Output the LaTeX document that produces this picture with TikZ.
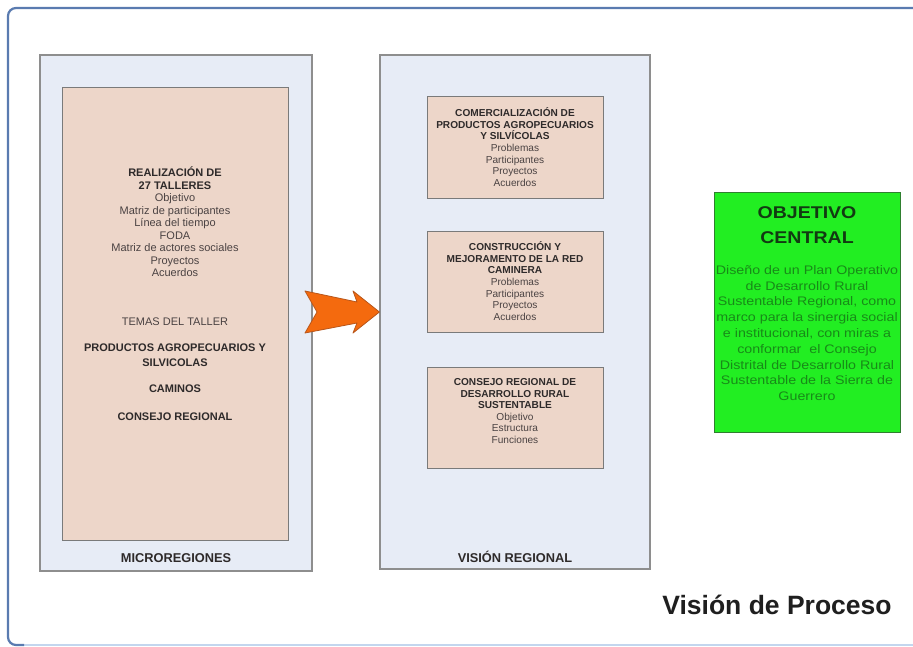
\documentclass[tikz,border=0pt]{standalone}
\usepackage{fontspec}
\setmainfont{Liberation Sans}
\newfontfamily\widefont{Liberation Sans}[FakeStretch=1.15]
\usetikzlibrary{calc}
\definecolor{panelfill}{HTML}{E7ECF6}
\definecolor{panelline}{HTML}{8E8E8E}
\definecolor{peach}{HTML}{EDD6C9}
\definecolor{boxline}{HTML}{7A7A7A}
\definecolor{txtbold}{HTML}{2E2A2A}
\definecolor{txtreg}{HTML}{4A4242}
\definecolor{frameblue}{HTML}{5A7BB0}
\definecolor{framelight}{HTML}{C3D6EE}
\definecolor{arroworange}{HTML}{F46A0E}
\definecolor{arrowedge}{HTML}{B8561A}
\definecolor{greenfill}{HTML}{22EE22}
\definecolor{greenline}{HTML}{2F7F2F}
\definecolor{greentitle}{HTML}{123A12}
\definecolor{greentext}{HTML}{188A18}
\begin{document}
\begin{tikzpicture}[x=1pt,y=-1pt,
  panel/.style={draw=panelline, fill=panelfill, line width=1.2pt, inner sep=0pt},
  peachbox/.style={draw=boxline, fill=peach, line width=1pt, inner sep=0pt},
  leftgrp/.style={align=center, inner sep=0pt, font=\fontsize{11}{12.5}\selectfont, text=txtbold},
  rightgrp/.style={align=center, inner sep=0pt, font=\fontsize{10.1}{11.6}\selectfont, text=txtbold},
  paneltitle/.style={inner sep=0pt, font=\fontsize{12.8}{14}\selectfont\bfseries, text=txtbold},
  greenbox/.style={draw=greenline, fill=greenfill, line width=1pt, inner sep=0pt},
  greentitlestyle/.style={align=center, inner sep=0pt, font=\widefont\fontsize{17}{25}\selectfont\bfseries, text=greentitle},
  greenbody/.style={align=center, inner sep=0pt, font=\widefont\fontsize{12.4}{15.8}\selectfont, text=greentext},
  blockarrow/.style={fill=arroworange, draw=arrowedge, line width=0.8pt, line join=round}
]
\useasboundingbox (0,0) rectangle (913,647);
\fill[white] (0,0) rectangle (913,647);
% outer frame
\draw[framelight, line width=2pt] (14,645) -- (913,645);
\draw[frameblue, line width=2.2pt, rounded corners=8pt] (913,8) -- (8,8) -- (8,645) -- (24,645);

% panels
\node[panel, minimum width=272pt, minimum height=516pt] (micro) at (176,313) {};
\node[panel, minimum width=270pt, minimum height=514pt] (vision) at (515,312) {};

% left inner box
\node[peachbox, minimum width=226pt, minimum height=452pt] (talleres) at (175,314) {};
\node[leftgrp] (talleresTxt) at (175,222) {\textbf{REALIZACIÓN DE}\\ \textbf{27 TALLERES}\\ \color{txtreg}Objetivo\\ \color{txtreg}Matriz de participantes\\ \color{txtreg}Línea del tiempo\\ \color{txtreg}FODA\\ \color{txtreg}Matriz de actores sociales\\ \color{txtreg}Proyectos\\ \color{txtreg}Acuerdos};
\node[leftgrp, text=txtreg] (temas) at (175,322) {TEMAS DEL TALLER};
\node[leftgrp, font=\fontsize{11}{14.5}\selectfont\bfseries] (productos) at (175,355) {PRODUCTOS AGROPECUARIOS Y\\ SILVICOLAS};
\node[leftgrp, font=\fontsize{11}{12.5}\selectfont\bfseries] (caminos) at (175,389) {CAMINOS};
\node[leftgrp, font=\fontsize{11}{12.5}\selectfont\bfseries] (consejo) at (175,417) {CONSEJO REGIONAL};
\node[paneltitle] (microTitle) at (176,558) {MICROREGIONES};

% right inner boxes
\node[peachbox, minimum width=176pt, minimum height=102pt] (box1) at (515,148) {};
\node[rightgrp] (box1Txt) at (515,147) {\textbf{COMERCIALIZACIÓN DE}\\ \textbf{PRODUCTOS AGROPECUARIOS}\\ \textbf{Y SILVÍCOLAS}\\ \color{txtreg}Problemas\\ \color{txtreg}Participantes\\ \color{txtreg}Proyectos\\ \color{txtreg}Acuerdos};
\node[peachbox, minimum width=176pt, minimum height=101pt] (box2) at (515,282) {};
\node[rightgrp] (box2Txt) at (515,281) {\textbf{CONSTRUCCIÓN Y}\\ \textbf{MEJORAMENTO DE LA RED}\\ \textbf{CAMINERA}\\ \color{txtreg}Problemas\\ \color{txtreg}Participantes\\ \color{txtreg}Proyectos\\ \color{txtreg}Acuerdos};
\node[peachbox, minimum width=176pt, minimum height=101pt] (box3) at (515,417.5) {};
\node[rightgrp] (box3Txt) at (515,411) {\textbf{CONSEJO REGIONAL DE}\\ \textbf{DESARROLLO RURAL}\\ \textbf{SUSTENTABLE}\\ \color{txtreg}Objetivo\\ \color{txtreg}Estructura\\ \color{txtreg}Funciones};
\node[paneltitle] (visionTitle) at (515,557) {VISIÓN REGIONAL};

% block arrow between panels
\draw[blockarrow] (305,291) -- (357,302) -- (353,291) -- (vision.west |- 0,312) -- (353,333) -- (357,323) -- (305,333) -- (317,312) -- cycle;

% objetivo central
\node[greenbox, minimum width=186pt, minimum height=239pt] (objetivo) at (807,312.5) {};
\node[greentitlestyle] (objTitle) at (807,225) {OBJETIVO\\ CENTRAL};
\node[greenbody] (objTxt) at (807,333) {Diseño de un Plan Operativo\\ de Desarrollo Rural\\ Sustentable Regional, como\\ marco para la sinergia social\\ e institucional, con miras a\\ conformar \ el Consejo\\ Distrital de Desarrollo Rural\\ Sustentable de la Sierra de\\ Guerrero};

% caption
\node[inner sep=0pt, font=\fontsize{26.5}{30}\selectfont\bfseries, text=black!88] (caption) at (777,605) {Visión de Proceso};
\end{tikzpicture}
\end{document}
